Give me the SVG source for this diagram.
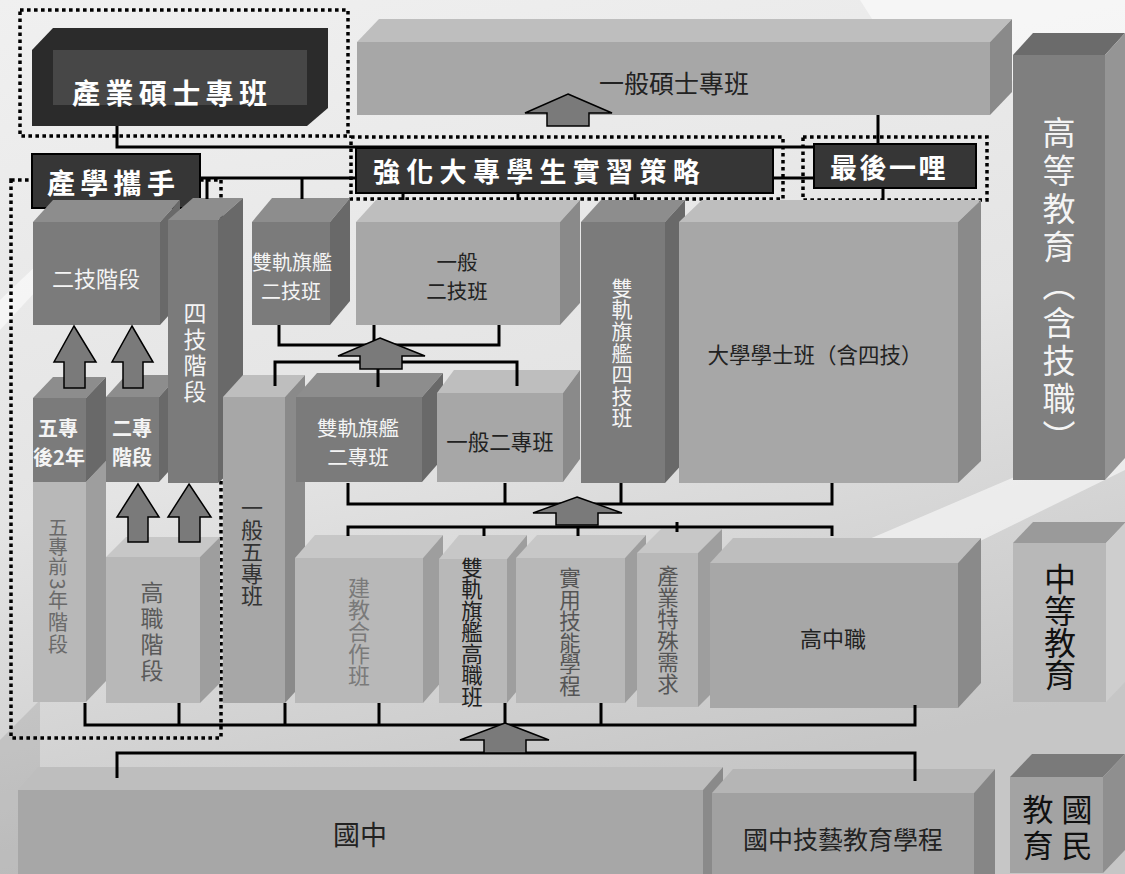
<svg xmlns="http://www.w3.org/2000/svg" width="1125" height="874" viewBox="0 0 1125 874">
<defs>
<linearGradient id="bg" x1="0" y1="0" x2="0.3" y2="1">
<stop offset="0" stop-color="#f0f0f0"/>
<stop offset="0.55" stop-color="#e4e4e4"/>
<stop offset="1" stop-color="#c6c6c6"/>
</linearGradient>
<style>
text{font-family:"Noto Sans CJK TC","Noto Sans CJK SC",sans-serif;dominant-baseline:central}
.c{text-anchor:middle}
.v{writing-mode:vertical-rl;text-anchor:middle}
.lab{fill:#fff;font-weight:700;text-anchor:start}
.w{fill:#f4f4f4}
.k{fill:#222}
.lt .f{fill:#a7a7a7}.lt .t{fill:#bebebe}.lt .s{fill:#8a8a8a}
.pl .f{fill:#b8b8b8}.pl .t{fill:#c7c7c7}.pl .s{fill:#9e9e9e}
.dk .f{fill:#7b7b7b}.dk .t{fill:#8d8d8d}.dk .s{fill:#696969}
.hi .f{fill:#7f7f7f}.hi .t{fill:#6b6b6b}.hi .s{fill:#959595}
.md .f{fill:#b8b8b8}.md .t{fill:#9a9a9a}.md .s{fill:#cecece}
.nt .f{fill:#a3a3a3}.nt .t{fill:#7a7a7a}.nt .s{fill:#8f8f8f}
.tk .f{fill:#a1a1a1}.tk .t{fill:#b5b5b5}.tk .s{fill:#868686}
.dot{fill:none;stroke:#000;stroke-width:3.5;stroke-dasharray:3.6 3.4}
.lbox{fill:#363636;stroke:#000;stroke-width:2}
.con path{fill:none;stroke:#000;stroke-width:3}
.arr polygon{fill:#7a7a7a;stroke:#000;stroke-width:1.5}
</style>
</defs>
<rect width="1125" height="874" fill="url(#bg)"/>
<g opacity="0.55" fill="#fff">
<polygon points="860,0 1125,0 1125,40 930,110"/>
<polygon points="820,560 1125,430 1125,470 860,600"/>
<polygon points="0,300 0,330 120,200 110,195"/>
</g>
<g opacity="0.25" fill="#8a8a8a">
<polygon points="0,740 40,700 40,874 0,874"/>
</g>

<!-- dotted frames -->
<rect class="dot" x="20" y="10" width="328" height="126"/>
<rect class="dot" x="11" y="180" width="210" height="558"/>
<rect class="dot" x="351" y="137" width="432" height="62"/>
<rect class="dot" x="803" y="137" width="184" height="63"/>

<g id="n-chanye-shuoshi">
<polygon points="32,50 53,28 328,28 328,108 307,126 32,126" fill="#2b2b2b"/>
<rect x="53" y="50" width="254" height="55" fill="#474747"/>
<text class="lab" x="72" y="92" font-size="28" letter-spacing="5.4">產業碩士專班</text>
</g>

<g id="n-yiban-shuoshi" class="lt">
<polygon class="t" points="357,42 379,19 1012,19 990,42"/>
<polygon class="s" points="990,42 1012,19 1012,92 990,115"/>
<rect class="f" x="357" y="42" width="633" height="73"/>
<text class="c k" x="674" y="82" font-size="25">一般碩士專班</text>
</g>

<g id="n-gaodeng" class="hi">
<polygon class="t" points="1013,55 1033,33 1125,33 1105,55"/>
<polygon class="s" points="1105,55 1125,33 1125,458 1105,480"/>
<rect class="f" x="1013" y="55" width="92" height="425"/>
<text class="v w" x="1059" y="287" font-size="33" letter-spacing="5">高等教育（含技職）</text>
</g>

<g id="n-chanxue" >
<rect class="lbox" x="32" y="154" width="168" height="54"/>
<text class="lab" x="47" y="182" font-size="28" letter-spacing="5.3">產學攜手</text>
</g>

<g id="n-qianghua">
<rect class="lbox" x="356" y="148" width="417" height="45"/>
<text class="lab" x="373" y="170" font-size="27" letter-spacing="6.3">強化大專學生實習策略</text>
</g>

<g id="n-zuihou">
<rect class="lbox" x="814" y="144" width="162" height="44"/>
<text class="lab" x="830" y="166" font-size="27" letter-spacing="2.5">最後一哩</text>
</g>

<g id="n-erji-jieduan" class="dk">
<polygon class="t" points="33,222 53,200 180,200 160,222"/>
<polygon class="s" points="160,222 180,200 180,303 160,325"/>
<rect class="f" x="33" y="222" width="127" height="103"/>
<text class="c w" x="96" y="277" font-size="22">二技階段</text>
</g>

<g id="n-shuanggui-erji" class="dk">
<polygon class="t" points="252,222 272,198 350,198 330,222"/>
<polygon class="s" points="330,222 350,198 350,301 330,325"/>
<rect class="f" x="252" y="222" width="78" height="103"/>
<text class="c w" font-size="20"><tspan x="292" y="261">雙軌旗艦</tspan><tspan x="291" y="290">二技班</tspan></text>
</g>

<g id="n-yiban-erji" class="lt">
<polygon class="t" points="356,222 376,200 580,200 560,222"/>
<polygon class="s" points="560,222 580,200 580,303 560,325"/>
<rect class="f" x="356" y="222" width="204" height="103"/>
<text class="c k" font-size="20.5"><tspan x="457" y="261">一般</tspan><tspan x="457" y="290">二技班</tspan></text>
</g>

<g id="n-shuanggui-siji" class="dk">
<polygon class="t" points="581,222 601,200 685,200 665,222"/>
<polygon class="s" points="665,222 685,200 685,461 665,483"/>
<rect class="f" x="581" y="222" width="84" height="261"/>
<text class="v w" x="622" y="353" font-size="21" letter-spacing="0.6">雙軌旗艦四技班</text>
</g>

<g id="n-daxue" class="lt">
<polygon class="t" points="679,222 702,200 981,200 958,222"/>
<polygon class="s" points="958,222 981,200 981,461 958,483"/>
<rect class="f" x="679" y="222" width="279" height="261"/>
<text class="c k" x="815" y="353" font-size="21.5">大學學士班（含四技）</text>
</g>

<g id="n-wuzhuan-qian" class="pl">
<polygon class="s" points="86,482 106,461 106,681 86,702"/>
<rect class="f" x="33" y="482" width="53" height="220"/>
<text class="v" x="58" y="547" font-size="19.5" fill="#6a6a6a">五專前</text>
<text class="c" x="58" y="584" font-size="20" fill="#6a6a6a" transform="rotate(90 58 584)">3</text>
<text class="v" x="58" y="623" font-size="20" letter-spacing="2" fill="#6a6a6a">年階段</text>
</g>

<g id="n-wuzhuan-hou" class="dk">
<polygon class="t" points="33,398 53,377 106,377 86,398"/>
<polygon class="s" points="86,398 106,377 106,461 86,482"/>
<rect class="f" x="33" y="398" width="53" height="84"/>
<text class="c w" font-size="20" font-weight="700"><tspan x="58" y="427">五專</tspan><tspan x="59" y="456">後2年</tspan></text>
</g>

<g id="n-erzhuan-jieduan" class="dk">
<polygon class="t" points="106,397 126,375 179,375 159,397"/>
<polygon class="s" points="159,397 179,375 179,460 159,482"/>
<rect class="f" x="106" y="397" width="53" height="85"/>
<text class="c w" font-size="20" font-weight="700"><tspan x="132" y="427">二專</tspan><tspan x="132" y="456">階段</tspan></text>
</g>

<g id="n-gaozhi-jieduan" class="pl">
<polygon class="t" points="106,557 126,537 220,537 200,557"/>
<polygon class="s" points="200,557 220,537 220,683 200,703"/>
<rect class="f" x="106" y="557" width="94" height="146"/>
<text class="v" x="152" y="633" font-size="23" letter-spacing="3" fill="#5a5a5a">高職階段</text>
</g>

<g id="n-siji-jieduan" class="dk">
<polygon class="t" points="168,220 193,198 243,198 218,220"/>
<polygon class="s" points="218,220 243,198 243,461 218,483"/>
<rect class="f" x="168" y="220" width="50" height="263"/>
<text class="v w" x="195" y="354" font-size="23" letter-spacing="3">四技階段</text>
</g>

<g id="n-yiban-wuzhuan" class="lt">
<polygon class="t" points="223,397 243,375 305,375 285,397"/>
<polygon class="s" points="285,397 305,375 305,681 285,703"/>
<rect class="f" x="223" y="397" width="62" height="306"/>
<text class="v" x="252" y="552" font-size="22" fill="#333">一般五專班</text>
</g>

<g id="n-shuanggui-erzhuan" class="dk">
<polygon class="t" points="296,397 317,373 443,373 422,397"/>
<polygon class="s" points="422,397 443,373 443,458 422,482"/>
<rect class="f" x="296" y="397" width="126" height="85"/>
<text class="c w" font-size="20.5"><tspan x="358" y="427">雙軌旗艦</tspan><tspan x="358" y="456">二專班</tspan></text>
</g>

<g id="n-yiban-erzhuan" class="lt">
<polygon class="t" points="437,393 454,370 580,370 563,393"/>
<polygon class="s" points="563,393 580,370 580,459 563,482"/>
<rect class="f" x="437" y="393" width="126" height="89"/>
<text class="c k" x="500" y="440" font-size="21.5">一般二專班</text>
</g>

<g id="n-jianjiao" class="pl">
<polygon class="t" points="295,558 315,535 443,535 423,558"/>
<polygon class="s" points="423,558 443,535 443,680 423,703"/>
<rect class="f" x="295" y="558" width="128" height="145"/>
<text class="v" x="359" y="632" font-size="22" fill="#7a7a7a">建教合作班</text>
</g>

<g id="n-shuanggui-gaozhi" class="pl">
<polygon class="t" points="439,559 459,535 527,535 507,559"/>
<polygon class="s" points="507,559 527,535 527,679 507,703"/>
<rect class="f" x="439" y="559" width="68" height="144"/>
<text class="v k" x="472" y="632" font-size="21.5">雙軌旗艦高職班</text>
</g>

<g id="n-shiyong" class="pl">
<polygon class="t" points="516,558 537,535 646,535 625,558"/>
<polygon class="s" points="625,558 646,535 646,680 625,703"/>
<rect class="f" x="516" y="558" width="109" height="145"/>
<text class="v" x="570" y="632" font-size="21.5" fill="#555">實用技能學程</text>
</g>

<g id="n-chanye-teshu" class="pl">
<polygon class="t" points="637,553 661,529 722,529 698,553"/>
<polygon class="s" points="698,553 722,529 722,683 698,707"/>
<rect class="f" x="637" y="553" width="61" height="154"/>
<text class="v" x="668" y="630" font-size="21.5" fill="#555">產業特殊需求</text>
</g>

<g id="n-gaozhongzhi" class="lt">
<polygon class="t" points="710,563 733,538 981,538 958,563"/>
<polygon class="s" points="958,563 981,538 981,683 958,708"/>
<rect class="f" x="710" y="563" width="248" height="145"/>
<text class="c k" x="833" y="637" font-size="22">高中職</text>
</g>

<g id="n-zhongdeng" class="md">
<polygon class="t" points="1013,543 1033,522 1126,522 1106,543"/>
<polygon class="s" points="1106,543 1126,522 1126,681 1106,702"/>
<rect class="f" x="1013" y="543" width="93" height="159"/>
<text class="v" x="1060" y="627" font-size="32" fill="#111">中等教育</text>
</g>

<g id="n-guozhong" class="lt">
<polygon class="t" points="18,790 38,767 723,767 703,790"/>
<polygon class="s" points="703,790 723,767 723,874 703,874"/>
<rect class="f" x="18" y="790" width="685" height="84"/>
<text class="c k" x="360" y="833" font-size="27">國中</text>
</g>

<g id="n-jiyi" class="tk">
<polygon class="t" points="712,793 733,769 995,769 974,793"/>
<polygon class="s" points="974,793 995,769 995,874 974,874"/>
<rect class="f" x="712" y="793" width="262" height="81"/>
<text class="c k" x="843" y="838" font-size="25">國中技藝教育學程</text>
</g>

<g id="n-guomin" class="nt">
<polygon class="t" points="1010,777 1032,754 1125,754 1103,777"/>
<polygon class="s" points="1103,777 1125,754 1125,850 1103,873"/>
<rect class="f" x="1010" y="777" width="93" height="96"/>
<text class="v" x="1077" y="830" font-size="31" letter-spacing="5" fill="#111">國民</text>
<text class="v" x="1038" y="830" font-size="31" letter-spacing="5" fill="#111">教育</text>
</g>

<g id="connectors" class="con">
<path d="M117,126V147H814M878,115V144"/>
<path d="M200,178H356M773,178H814M207,178V199M302,178V199M403,193V200M518,193V200M635,193V200M883,188V200"/>
<path d="M279,325V345H499V325M374,325V345"/>
<path d="M275,386V362H517V386M378,362V387"/>
<path d="M348,483V504H832V483M505,483V504M621,483V504"/>
<path d="M348,536V527H832V536M484,527V536M578,527V536M677,522V532"/>
<path d="M85,703V725H915V705M179,703V725M285,703V725M379,703V725M505,703V725M601,703V725"/>
<path d="M117,778V753H915V781"/>
</g>

<g id="arrows" class="arr">
<polygon points="568,94 612,113 589,113 589,126 547,126 547,113 525,113"/>
<polygon points="74,326 96,362 85,362 85,388 64,388 64,362 54,362"/>
<polygon points="132,326 153,362 143,362 143,388 123,388 123,362 112,362"/>
<polygon points="138,484 159,517 148,517 148,542 128,542 128,517 117,517"/>
<polygon points="189,484 211,517 200,517 200,542 179,542 179,517 168,517"/>
<polygon points="380,338 425,356 402,356 402,369 360,369 360,356 338,356"/>
<polygon points="577,497 622,513 598,513 598,525 556,525 556,513 533,513"/>
<polygon points="505,723 549,740 526,740 526,753 484,753 484,740 460,740"/>
</g>
</svg>
